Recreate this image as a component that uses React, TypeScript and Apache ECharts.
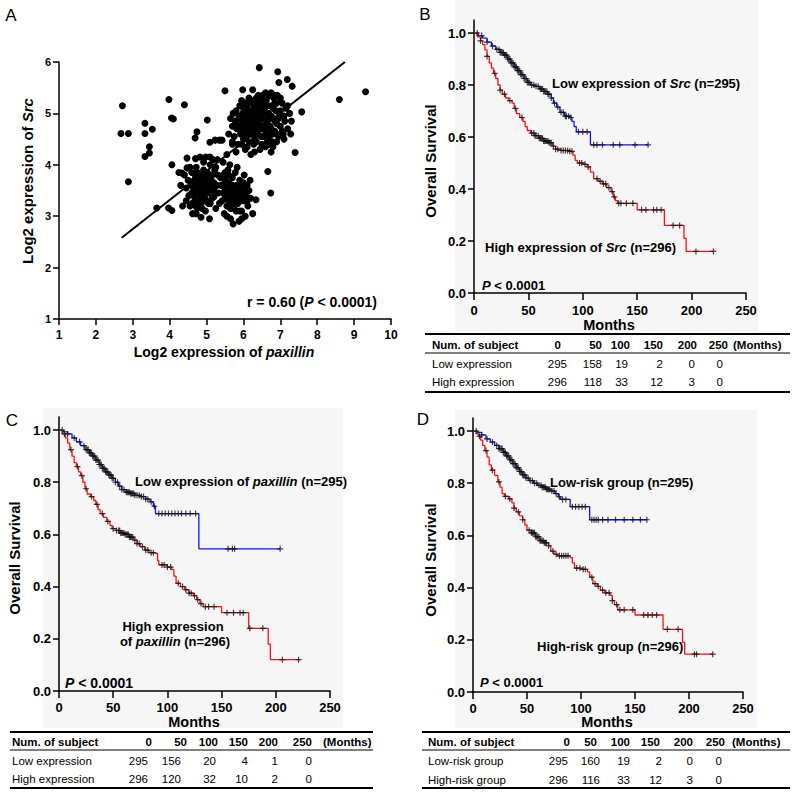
import React, { useEffect, useRef } from "react";
import * as echarts from "echarts";

const FONT = "'Liberation Sans', Arial, Helvetica, sans-serif";

// ---------------- Panel A: scatter (log2 paxillin vs log2 Src) ----------------
const scatterOutliers: number[][] = [
  [2.72, 5.15], [2.68, 4.61], [2.88, 4.61], [2.88, 3.67], [3.33, 4.81], [3.33, 4.61], [3.53, 4.69],
  [3.45, 4.35], [3.45, 4.23], [3.33, 4.16], [3.98, 5.27], [4.05, 4.91], [4.1, 4.89], [4.4, 5.17],
  [4.06, 4.0], [3.65, 3.16], [3.97, 3.16], [4.06, 3.11], [4.69, 4.52], [4.74, 4.64], [5.02, 4.87],
  [5.09, 4.44], [5.23, 4.48], [5.42, 4.48], [5.5, 5.44], [5.98, 5.46], [6.25, 5.46], [6.43, 5.89],
  [6.93, 5.81], [6.96, 5.6], [7.19, 5.66], [7.32, 5.53], [8.6, 5.27], [9.31, 5.42], [7.4, 4.24],
  [6.66, 3.87], [6.74, 3.45], [6.34, 3.32], [7.58, 5.03], [4.47, 4.13], [4.82, 4.15], [5.09, 4.15],
  [4.33, 3.84], [4.47, 3.94],
];

const scatterLowCluster: number[][] = [
  [4.45, 3.55], [4.5, 3.7], [4.52, 3.4], [4.55, 3.2], [4.58, 3.62], [4.6, 3.85], [4.62, 3.05], [4.65, 3.5],
  [4.68, 3.3], [4.7, 3.75], [4.72, 3.95], [4.75, 3.15], [4.78, 3.6], [4.8, 3.4], [4.82, 3.8], [4.85, 2.98],
  [4.86, 3.25], [4.88, 3.55], [4.9, 3.7], [4.92, 4.05], [4.95, 3.35], [4.97, 3.1], [5.0, 3.62], [5.02, 3.85],
  [5.05, 3.45], [5.08, 2.95], [5.1, 3.25], [5.12, 3.72], [5.15, 3.55], [5.18, 4.1], [5.2, 3.38], [5.22, 3.9],
  [5.25, 3.15], [5.28, 3.6], [5.3, 3.8], [5.32, 3.45], [4.6, 3.45], [4.7, 3.6], [4.75, 3.85], [4.8, 3.25],
  [4.85, 3.7], [4.9, 3.45], [4.95, 3.8], [5.0, 3.3], [5.05, 3.7], [5.1, 3.5], [5.15, 3.35], [5.2, 3.65],
  [4.67, 3.7], [4.73, 3.48], [4.83, 3.63], [4.93, 3.58], [5.03, 3.52], [4.4, 3.8], [4.55, 3.95], [4.62, 3.25],
  [4.45, 3.3], [5.25, 3.95], [4.98, 4.15], [4.88, 3.15],
  [5.4, 3.6], [5.42, 3.3], [5.45, 3.8], [5.48, 3.05], [5.5, 3.5], [5.52, 3.7], [5.55, 3.2], [5.58, 3.9],
  [5.6, 3.4], [5.62, 3.6], [5.65, 2.95], [5.68, 3.3], [5.7, 3.75], [5.72, 3.5], [5.75, 3.15], [5.78, 3.85],
  [5.8, 3.4], [5.82, 3.6], [5.85, 3.25], [5.88, 2.9], [5.9, 3.7], [5.92, 3.45], [5.95, 3.1], [5.98, 3.55],
  [6.0, 3.3], [6.02, 3.8], [6.05, 3.0], [6.08, 3.4], [6.1, 3.6], [6.12, 3.2], [6.15, 3.5], [6.2, 3.35],
  [6.25, 3.05], [5.5, 3.35], [5.6, 3.65], [5.7, 3.25], [5.8, 3.55], [5.9, 3.3], [6.0, 3.5], [5.55, 3.45],
  [5.65, 3.55], [5.75, 3.35], [5.85, 3.45], [5.95, 3.65], [5.72, 2.85], [5.95, 2.95], [5.63, 4.0], [5.35, 3.25],
  [5.38, 3.75], [6.18, 3.7], [5.83, 3.95],
  [4.7, 4.12], [5.1, 4.0], [5.3, 4.1], [5.45, 4.05], [5.55, 4.2], [5.7, 4.45], [5.35, 4.48], [4.25, 3.85],
  [4.3, 3.6], [4.35, 3.2],
  [4.6, 3.6], [4.65, 3.4], [4.7, 3.2], [4.75, 3.7], [4.8, 3.5], [4.85, 3.35], [4.9, 3.6], [4.95, 3.5],
  [5.0, 3.75], [5.05, 3.25], [5.1, 3.65], [5.15, 3.8], [5.2, 3.5], [4.72, 3.05], [4.92, 3.9], [5.45, 3.45],
  [5.5, 3.65], [5.55, 3.55], [5.6, 3.3], [5.65, 3.45], [5.7, 3.6], [5.75, 3.45], [5.8, 3.3], [5.85, 3.6],
  [5.9, 3.5], [5.95, 3.35], [6.0, 3.65], [6.05, 3.45], [5.65, 3.15], [5.8, 3.1], [5.6, 3.8], [5.9, 3.1],
  [6.1, 3.3], [5.55, 3.0], [5.5, 3.85],
];

const scatterHighCluster: number[][] = [
  [5.6, 4.6], [5.65, 4.9], [5.7, 4.75], [5.72, 5.0], [5.75, 4.55], [5.78, 4.85], [5.8, 5.05], [5.82, 4.7],
  [5.85, 4.4], [5.88, 4.95], [5.9, 5.15], [5.92, 4.6], [5.95, 4.8], [5.98, 5.0], [6.0, 4.5], [6.02, 4.9],
  [6.05, 5.2], [6.08, 4.7], [6.1, 4.35], [6.12, 5.05], [6.15, 4.85], [6.18, 4.6], [6.2, 5.25], [6.22, 4.95],
  [6.25, 4.75], [6.28, 5.1], [6.3, 4.5], [6.32, 4.9], [6.35, 5.3], [6.38, 4.65], [6.4, 5.0], [6.42, 4.8],
  [6.45, 5.2], [6.48, 4.55], [6.5, 4.95], [6.52, 5.35], [6.55, 4.7], [6.58, 5.1], [6.6, 4.85], [6.62, 5.25],
  [6.65, 4.6], [6.68, 5.0], [6.7, 5.35], [6.72, 4.75], [6.75, 5.15], [6.78, 4.45], [6.8, 4.9], [6.82, 5.3],
  [6.85, 4.65], [6.88, 5.05], [6.9, 4.8], [6.92, 5.35], [6.95, 4.55], [6.98, 5.0], [7.0, 4.75], [7.05, 5.2],
  [7.08, 4.6], [7.1, 4.95], [7.15, 5.1], [7.2, 4.7], [7.25, 5.0], [7.3, 4.85],
  [6.0, 4.7], [6.1, 4.8], [6.2, 4.9], [6.3, 5.0], [6.4, 4.85], [6.5, 5.1], [6.3, 4.75], [6.15, 5.0],
  [6.25, 4.6], [6.35, 4.45], [6.45, 4.7], [6.55, 4.9], [6.05, 4.55], [5.95, 4.4], [6.45, 5.05], [6.6, 4.65],
  [6.7, 4.55], [6.35, 5.15], [6.1, 4.95], [6.55, 5.2], [6.65, 4.8], [6.75, 4.95], [6.8, 5.1], [6.85, 4.85],
  [6.9, 5.2], [6.0, 5.1], [6.25, 5.2], [6.15, 4.45], [6.05, 4.3], [6.3, 4.25], [6.5, 4.4], [6.6, 4.35],
  [6.7, 4.4], [6.8, 4.35], [6.75, 4.25], [6.2, 4.2], [6.45, 4.3], [6.4, 5.35], [6.6, 5.4], [6.75, 5.4],
  [6.85, 5.35], [7.0, 5.3], [5.7, 4.4], [5.8, 4.25], [6.9, 4.6], [7.05, 4.65], [7.12, 4.85], [7.2, 5.15],
  [7.28, 4.6], [5.95, 5.25], [6.15, 5.3],
  [5.85, 4.75], [5.9, 4.9], [6.0, 4.95], [6.05, 4.85], [6.1, 4.65], [6.2, 4.75], [6.25, 4.85], [6.3, 4.65],
  [6.35, 4.95], [6.4, 4.6], [6.45, 4.9], [6.5, 4.75], [6.55, 5.05], [6.6, 4.95], [6.65, 5.15], [6.7, 4.9],
  [6.75, 4.7], [6.8, 4.6], [6.85, 5.2], [6.95, 4.9], [7.0, 5.05], [6.35, 4.8], [6.2, 5.05], [6.1, 5.15],
  [6.4, 5.1], [6.5, 5.25], [6.3, 5.25], [6.05, 5.0], [5.98, 4.65], [6.15, 4.7], [6.28, 4.4], [6.55, 4.55],
  [6.65, 4.45], [6.9, 4.45], [7.1, 4.5],
];

const fitLine: number[][] = [[2.7, 2.58], [8.75, 6.0]];

// ---------------- Kaplan-Meier curves [month, survival] ----------------
const bLowSrc: number[][] = [
  [0, 1], [4, 0.99], [8, 0.98], [12, 0.965], [16, 0.95], [20, 0.937], [24, 0.925], [28, 0.915], [31, 0.9],
  [34, 0.885], [37, 0.87], [40, 0.855], [43, 0.84], [46, 0.825], [49, 0.81], [52, 0.8], [56, 0.795],
  [60, 0.785], [64, 0.775], [68, 0.765], [71, 0.75], [73, 0.73], [76, 0.715], [79, 0.695], [83, 0.68],
  [88, 0.675], [90, 0.66], [92, 0.64], [94, 0.62], [107, 0.57], [160, 0.57],
];
const bHighSrc: number[][] = [
  [0, 1], [3, 0.985], [6, 0.97], [8, 0.955], [10, 0.935], [12, 0.91], [14, 0.885], [16, 0.865], [18, 0.845],
  [20, 0.825], [22, 0.8], [24, 0.78], [26, 0.765], [29, 0.75], [32, 0.74], [35, 0.73], [37, 0.71], [39, 0.69],
  [42, 0.675], [45, 0.66], [47, 0.64], [49, 0.625], [52, 0.615], [56, 0.605], [60, 0.595], [64, 0.585],
  [69, 0.578], [72, 0.565], [75, 0.553], [80, 0.548], [88, 0.545], [91, 0.53], [93, 0.51], [95, 0.5],
  [101, 0.495], [104, 0.485], [107, 0.465], [110, 0.44], [114, 0.43], [118, 0.42], [122, 0.405], [126, 0.39],
  [128, 0.37], [130, 0.355], [132, 0.345], [150, 0.32], [175, 0.26], [193, 0.21], [195, 0.16], [220, 0.16],
];
const bLowCensor = [3, 7, 12, 17, 21, 23, 24, 25, 26, 27, 28, 29, 30, 31, 32, 33, 34, 35, 36, 37, 38, 39, 40, 41, 42, 43, 44, 45, 46, 47, 48, 49, 50, 51, 53, 55, 57, 59, 61, 62, 63, 64, 65, 66, 67, 68, 69, 71, 74, 77, 80, 82, 84, 85, 87, 89, 96, 100, 104, 110, 113, 118, 128, 134, 148, 160];
const bHighCensor = [6, 12, 19, 24, 28, 33, 38, 44, 53, 55, 56, 57, 59, 60, 61, 62, 63, 64, 65, 66, 67, 68, 69, 70, 71, 73, 75, 77, 80, 82, 84, 86, 88, 90, 97, 99, 102, 105, 113, 116, 119, 121, 124, 127, 129, 133, 135, 140, 146, 154, 158, 165, 168, 172, 183, 189, 204, 220];

const cLowPax: number[][] = [
  [0, 1], [4, 0.993], [8, 0.985], [12, 0.97], [16, 0.955], [20, 0.94], [24, 0.925], [28, 0.912], [31, 0.9],
  [34, 0.885], [37, 0.868], [40, 0.853], [43, 0.84], [46, 0.828], [49, 0.815], [52, 0.8], [55, 0.785],
  [58, 0.772], [62, 0.762], [66, 0.757], [70, 0.75], [75, 0.745], [80, 0.735], [84, 0.725], [87, 0.708],
  [89, 0.68], [129, 0.545], [204, 0.545],
];
const cHighPax: number[][] = [
  [0, 1], [3, 0.985], [6, 0.97], [8, 0.95], [10, 0.925], [12, 0.9], [14, 0.875], [16, 0.86], [18, 0.84],
  [20, 0.825], [22, 0.8], [24, 0.775], [26, 0.755], [29, 0.745], [32, 0.73], [34, 0.715], [36, 0.695],
  [38, 0.68], [41, 0.665], [44, 0.65], [47, 0.635], [49, 0.622], [53, 0.615], [57, 0.605], [61, 0.6],
  [65, 0.59], [69, 0.578], [72, 0.565], [75, 0.553], [79, 0.54], [83, 0.53], [89, 0.527], [91, 0.5],
  [92, 0.483], [100, 0.475], [104, 0.465], [106, 0.44], [108, 0.413], [112, 0.4], [116, 0.388], [120, 0.375],
  [124, 0.365], [127, 0.35], [130, 0.335], [133, 0.323], [150, 0.3], [175, 0.24], [193, 0.18], [195, 0.12],
  [221, 0.12],
];
const cLowCensor = [3, 8, 14, 19, 23, 25, 26, 27, 28, 29, 30, 31, 32, 33, 34, 35, 36, 37, 38, 39, 40, 41, 42, 43, 44, 45, 46, 47, 48, 49, 50, 52, 54, 56, 58, 60, 62, 63, 64, 65, 66, 67, 68, 69, 70, 72, 74, 76, 78, 80, 82, 85, 88, 92, 95, 98, 101, 104, 107, 110, 113, 117, 121, 126, 156, 160, 162, 204];
const cHighCensor = [5, 11, 17, 21, 25, 30, 35, 40, 45, 50, 53, 55, 56, 57, 58, 59, 60, 61, 62, 63, 64, 65, 66, 67, 68, 70, 72, 74, 77, 80, 82, 85, 87, 95, 97, 100, 103, 110, 114, 117, 120, 122, 125, 128, 131, 135, 138, 143, 155, 161, 167, 170, 176, 188, 206, 221];

const dLowRisk: number[][] = [
  [0, 1], [4, 0.995], [8, 0.985], [12, 0.97], [16, 0.958], [20, 0.945], [24, 0.933], [28, 0.918], [31, 0.905],
  [34, 0.89], [37, 0.875], [40, 0.86], [43, 0.845], [46, 0.832], [49, 0.82], [52, 0.81], [56, 0.8],
  [60, 0.792], [64, 0.785], [68, 0.777], [72, 0.77], [76, 0.76], [79, 0.748], [81, 0.738], [90, 0.71],
  [108, 0.66], [161, 0.66],
];
const dHighRisk: number[][] = [
  [0, 1], [3, 0.99], [5, 0.98], [7, 0.965], [9, 0.945], [11, 0.925], [13, 0.9], [15, 0.87], [17, 0.85],
  [20, 0.83], [23, 0.805], [25, 0.785], [27, 0.76], [29, 0.75], [33, 0.74], [36, 0.725], [38, 0.705],
  [40, 0.69], [43, 0.675], [46, 0.66], [48, 0.64], [50, 0.62], [54, 0.61], [58, 0.595], [62, 0.58],
  [66, 0.572], [70, 0.56], [72, 0.54], [75, 0.528], [78, 0.522], [90, 0.515], [92, 0.495], [94, 0.475],
  [100, 0.47], [106, 0.46], [108, 0.44], [111, 0.415], [115, 0.405], [118, 0.39], [122, 0.38], [127, 0.37],
  [129, 0.35], [131, 0.335], [134, 0.315], [150, 0.295], [176, 0.24], [194, 0.19], [196, 0.145], [222, 0.145],
];
const dLowCensor = [3, 8, 13, 18, 22, 24, 25, 26, 27, 28, 29, 30, 31, 32, 33, 34, 35, 36, 37, 38, 39, 40, 41, 42, 43, 44, 45, 46, 47, 48, 49, 51, 53, 55, 57, 59, 61, 63, 64, 65, 66, 67, 68, 69, 70, 71, 73, 75, 77, 80, 83, 86, 92, 95, 98, 101, 104, 110, 112, 114, 116, 120, 125, 132, 140, 148, 155, 161];
const dHighCensor = [6, 12, 18, 24, 30, 34, 38, 42, 46, 52, 54, 55, 56, 57, 58, 59, 60, 61, 62, 63, 64, 65, 66, 67, 68, 70, 74, 77, 80, 82, 84, 86, 88, 96, 99, 102, 104, 110, 113, 116, 120, 123, 126, 129, 133, 136, 140, 148, 158, 162, 166, 170, 180, 190, 205, 207, 222];

const survTicks = [0, 0.2, 0.4, 0.6, 0.8, 1.0];

// ---------------- Number-at-risk tables ----------------
const riskHeader = ["0", "50", "100", "150", "200", "250"];
const tableBRows = ["Low expression", "High expression"];
const tableBLow = [295, 158, 19, 2, 0, 0];
const tableBHigh = [296, 118, 33, 12, 3, 0];
const tableCRows = ["Low expression", "High expression"];
const tableCLow = [295, 156, 20, 4, 1, 0];
const tableCHigh = [296, 120, 32, 10, 2, 0];
const tableDRows = ["Low-risk group", "High-risk group"];
const tableDLow = [295, 160, 19, 2, 0, 0];
const tableDHigh = [296, 116, 33, 12, 3, 0];

// ---------------- helpers ----------------
function stepValue(curve: number[][], t: number): number {
  let v = curve[0][1];
  for (const [ti, si] of curve) {
    if (ti <= t) v = si;
    else break;
  }
  return v;
}
function censorPoints(curve: number[][], times: number[]): number[][] {
  return times.map((t) => [t, stepValue(curve, t)]);
}

const PLUS = "path://M2,0H3V2H5V3H3V5H2V3H0V2H2Z";
const BLUE = "#1010ff";
const RED = "#ff1010";

function richStyle(size: number) {
  return {
    b: { fontFamily: FONT, fontWeight: "bold", fontSize: size, color: "#000", fill: "#000" },
    bi: { fontFamily: FONT, fontWeight: "bold", fontStyle: "italic", fontSize: size, color: "#000", fill: "#000" },
  };
}

function txt(
  x: number,
  y: number,
  text: string,
  opts: { size?: number; bold?: boolean; align?: string; rot?: number; rich?: boolean; italic?: boolean } = {}
): any {
  const size = opts.size ?? 13;
  const style: any = {
    text,
    fontSize: size,
    fontFamily: FONT,
    fontWeight: opts.bold ? "bold" : "normal",
    fontStyle: opts.italic ? "italic" : "normal",
    fill: "#000",
    align: opts.align ?? "left",
    textAlign: opts.align ?? "left",
    verticalAlign: "middle",
    textVerticalAlign: "middle",
  };
  if (opts.rich) style.rich = richStyle(size);
  return { type: "text", x, y, rotation: opts.rot ?? 0, z: 100, style };
}

function hline(x1: number, x2: number, y: number, w: number): any {
  return { type: "line", z: 100, shape: { x1, y1: y, x2, y2: y }, style: { stroke: "#000", lineWidth: w } };
}

function table(cfg: {
  x1: number; x2: number; top: number; headY: number; under: number; rowY: number[]; bottom: number;
  labelX: number; headRight: number[]; valRight: number[]; monthsX: number;
  rows: string[]; values: number[][];
}): any[] {
  const els: any[] = [];
  els.push(hline(cfg.x1, cfg.x2, cfg.top, 2));
  els.push(hline(cfg.x1, cfg.x2, cfg.under, 1));
  els.push(hline(cfg.x1, cfg.x2, cfg.bottom, 2));
  els.push(txt(cfg.labelX, cfg.headY, "Num. of subject", { size: 11.5, bold: true }));
  riskHeader.forEach((h, i) => els.push(txt(cfg.headRight[i], cfg.headY, h, { size: 11.5, bold: true, align: "right" })));
  els.push(txt(cfg.monthsX, cfg.headY, "(Months)", { size: 11.5, bold: true }));
  cfg.rows.forEach((r, ri) => {
    els.push(txt(cfg.labelX, cfg.rowY[ri], r, { size: 11.5 }));
    cfg.values[ri].forEach((v, i) => els.push(txt(cfg.valRight[i], cfg.rowY[ri], String(v), { size: 11.5, align: "right" })));
  });
  return els;
}

const axisLineStyle = { color: "#000", width: 1.5 };

function survX(gridIndex: number, margin: number): any {
  return {
    gridIndex, type: "value", min: 0, max: 250, interval: 50,
    axisLine: { show: true, onZero: false, lineStyle: axisLineStyle },
    axisTick: { show: true, length: 7, lineStyle: axisLineStyle },
    axisLabel: { margin, fontFamily: FONT, fontWeight: "bold", fontSize: 13, color: "#000" },
    splitLine: { show: false },
  };
}
function survY(gridIndex: number): any {
  return {
    gridIndex, type: "value", min: 0, max: 1.05,
    axisLine: { show: true, onZero: false, lineStyle: axisLineStyle },
    axisTick: { show: true, length: 6, lineStyle: axisLineStyle, customValues: survTicks },
    axisLabel: {
      margin: 8, fontFamily: FONT, fontWeight: "bold", fontSize: 13, color: "#000",
      customValues: survTicks, formatter: (v: number) => v.toFixed(1),
    },
    splitLine: { show: false },
  };
}
function kmLine(idx: number, data: number[][], color: string): any {
  return {
    type: "line", xAxisIndex: idx, yAxisIndex: idx, data, step: "end", showSymbol: false, symbol: "none",
    lineStyle: { color, width: 1.3 }, silent: true, z: 2,
  };
}
function kmCensor(idx: number, data: number[][]): any {
  return {
    type: "scatter", xAxisIndex: idx, yAxisIndex: idx, data, symbol: PLUS, symbolSize: 6,
    itemStyle: { color: "#111" }, silent: true, z: 3,
  };
}

export default function App() {
  const ref = useRef<HTMLDivElement>(null);
  useEffect(() => {
    if (!ref.current) return;
    const chart = echarts.init(ref.current, null, { renderer: "svg" });
    const graphics: any[] = [
      // light grey image backgrounds of the survival panels
      { type: "rect", z: -100, shape: { x: 455, y: 0, width: 303, height: 331 }, style: { fill: "#f6f6f6" } },
      { type: "rect", z: -100, shape: { x: 43, y: 408, width: 300, height: 320 }, style: { fill: "#f6f6f6" } },
      { type: "rect", z: -100, shape: { x: 455, y: 410, width: 302, height: 318 }, style: { fill: "#f6f6f6" } },
      // panel letters
      txt(11, 15, "A", { size: 17, align: "center" }),
      txt(425, 14, "B", { size: 17, align: "center" }),
      txt(12, 420, "C", { size: 17, align: "center" }),
      txt(423, 419, "D", { size: 17, align: "center" }),
      // panel A titles
      txt(27, 181, "{b|Log2 expression of }{bi|Src}", { size: 15, bold: true, align: "center", rot: Math.PI / 2, rich: true }),
      txt(224, 352, "{b|Log2 expression of }{bi|paxillin}", { size: 14, bold: true, align: "center", rich: true }),
      txt(377, 302, "{b|r = 0.60 (}{bi|P}{b| < 0.0001)}", { size: 14, bold: true, align: "right", rich: true }),
      // panel B
      txt(430, 161, "Overall Survival", { size: 15, bold: true, align: "center", rot: Math.PI / 2 }),
      txt(609, 325, "Months", { size: 14.5, bold: true, align: "center" }),
      txt(552, 83, "{b|Low expression of }{bi|Src}{b| (n=295)}", { size: 13, bold: true, rich: true }),
      txt(485, 247, "{b|High expression of }{bi|Src}{b| (n=296)}", { size: 13, bold: true, rich: true }),
      txt(482, 285, "{bi|P}{b| < 0.0001}", { size: 13, bold: true, rich: true }),
      // panel C
      txt(14, 558, "Overall Survival", { size: 15, bold: true, align: "center", rot: Math.PI / 2 }),
      txt(194, 722, "Months", { size: 14.5, bold: true, align: "center" }),
      txt(135, 481, "{b|Low expression of }{bi|paxillin}{b| (n=295)}", { size: 13, bold: true, rich: true }),
      txt(173, 626, "{b|High expression}", { size: 13, bold: true, align: "center", rich: true }),
      txt(175, 641, "{b|of }{bi|paxillin}{b| (n=296)}", { size: 13, bold: true, align: "center", rich: true }),
      txt(65, 683, "{bi|P}{b| < 0.0001}", { size: 14, bold: true, rich: true }),
      // panel D
      txt(430, 560, "Overall Survival", { size: 15, bold: true, align: "center", rot: Math.PI / 2 }),
      txt(607, 722, "Months", { size: 14.5, bold: true, align: "center" }),
      txt(550, 482, "Low-risk group (n=295)", { size: 13, bold: true }),
      txt(537, 646, "High-risk group (n=296)", { size: 13, bold: true }),
      txt(480, 682, "{bi|P}{b| < 0.0001}", { size: 13, bold: true, rich: true }),
      // tables
      ...table({
        x1: 425, x2: 790, top: 334, headY: 345, under: 353, rowY: [364, 382], bottom: 392,
        labelX: 432, headRight: [561, 602, 630, 663, 697, 728], valRight: [567, 602, 628, 663, 695, 723], monthsX: 733,
        rows: tableBRows, values: [tableBLow, tableBHigh],
      }),
      ...table({
        x1: 10, x2: 373, top: 732, headY: 742, under: 750, rowY: [761, 779], bottom: 788,
        labelX: 12, headRight: [152, 187, 218, 248, 278, 312], valRight: [148, 181, 216, 248, 278, 312], monthsX: 323,
        rows: tableCRows, values: [tableCLow, tableCHigh],
      }),
      ...table({
        x1: 422, x2: 790, top: 732, headY: 742, under: 750, rowY: [761, 780], bottom: 788,
        labelX: 428, headRight: [570, 597, 630, 660, 693, 725], valRight: [568, 600, 630, 662, 693, 722], monthsX: 732,
        rows: tableDRows, values: [tableDLow, tableDHigh],
      }),
    ];

    const option: any = {
      animation: false,
      backgroundColor: "#ffffff",
      grid: [
        { left: 59, top: 62, width: 332, height: 257 },
        { left: 474, top: 20, width: 272, height: 273 },
        { left: 59, top: 417, width: 271, height: 274 },
        { left: 473, top: 418, width: 270, height: 274 },
      ],
      xAxis: [
        {
          gridIndex: 0, type: "value", min: 1, max: 10, interval: 1,
          axisLine: { show: true, onZero: false, lineStyle: axisLineStyle },
          axisTick: { show: true, length: 6, lineStyle: axisLineStyle },
          axisLabel: { margin: 10, fontFamily: FONT, fontWeight: "bold", fontSize: 12, color: "#000" },
          splitLine: { show: false },
        },
        survX(1, 11),
        survX(2, 10),
        survX(3, 10),
      ],
      yAxis: [
        {
          gridIndex: 0, type: "value", min: 1, max: 6, interval: 1,
          axisLine: { show: true, onZero: false, lineStyle: axisLineStyle },
          axisTick: { show: true, length: 6, lineStyle: axisLineStyle },
          axisLabel: { margin: 8, fontFamily: FONT, fontWeight: "bold", fontSize: 11, color: "#000" },
          splitLine: { show: false },
        },
        survY(1),
        survY(2),
        survY(3),
      ],
      series: [
        {
          type: "scatter", xAxisIndex: 0, yAxisIndex: 0,
          data: [...scatterOutliers, ...scatterLowCluster, ...scatterHighCluster],
          symbol: "circle", symbolSize: 7, itemStyle: { color: "#000", opacity: 1 }, silent: true, z: 2,
        },
        {
          type: "line", xAxisIndex: 0, yAxisIndex: 0, data: fitLine, showSymbol: false, symbol: "none",
          lineStyle: { color: "#000", width: 2 }, silent: true, z: 3,
        },
        kmLine(1, bLowSrc, BLUE),
        kmLine(1, bHighSrc, RED),
        kmCensor(1, censorPoints(bLowSrc, bLowCensor)),
        kmCensor(1, censorPoints(bHighSrc, bHighCensor)),
        kmLine(2, cLowPax, BLUE),
        kmLine(2, cHighPax, RED),
        kmCensor(2, censorPoints(cLowPax, cLowCensor)),
        kmCensor(2, censorPoints(cHighPax, cHighCensor)),
        kmLine(3, dLowRisk, BLUE),
        kmLine(3, dHighRisk, RED),
        kmCensor(3, censorPoints(dLowRisk, dLowCensor)),
        kmCensor(3, censorPoints(dHighRisk, dHighCensor)),
      ],
      graphic: { elements: graphics },
    };
    chart.setOption(option);
    return () => chart.dispose();
  }, []);
  return <div ref={ref} style={{ position: "absolute", left: 0, top: 0, width: 800, height: 796 }} />;
}
